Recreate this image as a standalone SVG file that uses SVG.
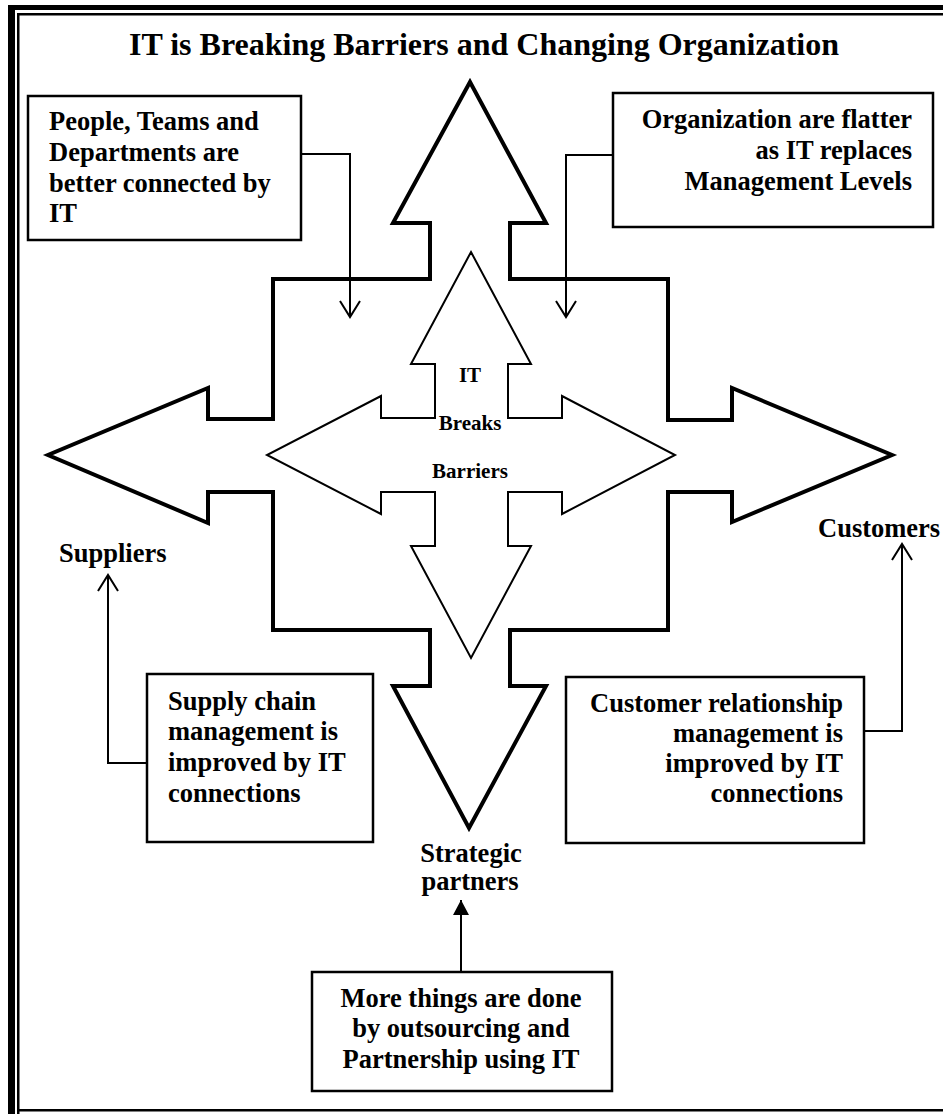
<svg xmlns="http://www.w3.org/2000/svg" width="943" height="1114" viewBox="0 0 943 1114">
  <style>
    text { font-family: "Liberation Serif", "Times New Roman", serif; font-weight: bold; fill: #000; }
    .title { font-size: 32px; }
    .label { font-size: 26.5px; }
    .inner { font-size: 21px; }
    .box { fill: #fff; stroke: #000; stroke-width: 2.5; }
    .big { fill: #fff; stroke: #000; stroke-width: 4; stroke-linejoin: miter; }
    .small { fill: none; stroke: #000; stroke-width: 2; stroke-linejoin: miter; }
    .conn { fill: none; stroke: #000; stroke-width: 2; }
  </style>
  <defs>
    <marker id="open" markerUnits="userSpaceOnUse" markerWidth="40" markerHeight="40" viewBox="-20 -20 40 40" refX="0" refY="0" orient="auto" overflow="visible">
      <path d="M-16,-10 L0,0 L-16,10" fill="none" stroke="#000" stroke-width="2"/>
    </marker>
    <marker id="solid" markerUnits="userSpaceOnUse" markerWidth="40" markerHeight="40" viewBox="-20 -20 40 40" refX="0" refY="0" orient="auto" overflow="visible">
      <path d="M-15,-8 L0,0 L-15,8 Z" fill="#000"/>
    </marker>
  </defs>

  <rect width="943" height="1114" fill="#fff"/>

  <!-- page border: thick outer rule, thin inner rule -->
  <g id="border">
    <rect x="8" y="5" width="7" height="1109" fill="#000"/>
    <rect x="8" y="5" width="935" height="5" fill="#000"/>
    <path d="M18.25,1114 V14.25 H943 M18.25,1110.25 H943" fill="none" stroke="#000" stroke-width="2.5"/>
  </g>

  <g id="title">
    <text class="title" x="484" y="55" text-anchor="middle">IT is Breaking Barriers and Changing Organization</text>
  </g>

  <!-- large four-way arrow -->
  <g id="outer-arrow">
    <polygon class="big" points="470,82 546,223 510,223 510,279 668,279 668,420 732,420 732,388 892,455 732,522 732,492 668,492 668,630 510,630 510,686 546,686 469,828 393,686 430,686 430,630 273,630 273,492 208,492 208,523 48,455 208,388 208,419 273,419 273,279 430,279 430,223 393,223"/>
  </g>

  <!-- small four-way arrow in the middle -->
  <g id="inner-arrow">
    <polygon class="small" points="471,252 531,364 508,364 508,418 562,418 562,396 675,455 562,514 562,492 508,492 508,546 531,546 471,658 411,546 435,546 435,492 381,492 381,514 267,455 381,396 381,418 435,418 435,364 411,364"/>
    <text class="inner" x="470" y="382" text-anchor="middle">IT</text>
    <text class="inner" x="470" y="430" text-anchor="middle">Breaks</text>
    <text class="inner" x="470" y="478" text-anchor="middle">Barriers</text>
  </g>

  <g id="box-people">
    <rect class="box" x="28" y="96" width="273" height="144"/>
    <text class="label" x="49" y="130">People, Teams and</text>
    <text class="label" x="49" y="161">Departments are</text>
    <text class="label" x="49" y="192">better connected by</text>
    <text class="label" x="49" y="222">IT</text>
  </g>

  <g id="box-flatter">
    <rect class="box" x="613" y="93" width="320" height="134"/>
    <text class="label" x="912" y="128" text-anchor="end">Organization are flatter</text>
    <text class="label" x="912" y="159" text-anchor="end">as IT replaces</text>
    <text class="label" x="912" y="190" text-anchor="end">Management Levels</text>
  </g>

  <g id="label-suppliers">
    <text class="label" x="59" y="562">Suppliers</text>
  </g>

  <g id="label-customers">
    <text class="label" x="818" y="537">Customers</text>
  </g>

  <g id="box-supply">
    <rect class="box" x="147" y="674" width="226" height="168"/>
    <text class="label" x="168" y="710">Supply chain</text>
    <text class="label" x="168" y="740">management is</text>
    <text class="label" x="168" y="771">improved by IT</text>
    <text class="label" x="168" y="802">connections</text>
  </g>

  <g id="box-customer">
    <rect class="box" x="566" y="677" width="298" height="166"/>
    <text class="label" x="843" y="712" text-anchor="end">Customer relationship</text>
    <text class="label" x="843" y="742" text-anchor="end">management is</text>
    <text class="label" x="843" y="772" text-anchor="end">improved by IT</text>
    <text class="label" x="843" y="802" text-anchor="end">connections</text>
  </g>

  <g id="label-partners">
    <text class="label" x="471" y="862" text-anchor="middle">Strategic</text>
    <text class="label" x="470" y="890" text-anchor="middle">partners</text>
  </g>

  <g id="box-outsourcing">
    <rect class="box" x="312" y="972" width="300" height="119"/>
    <text class="label" x="461" y="1007" text-anchor="middle">More things are done</text>
    <text class="label" x="461" y="1037" text-anchor="middle">by outsourcing and</text>
    <text class="label" x="461" y="1068" text-anchor="middle">Partnership using IT</text>
  </g>

  <g id="connectors">
    <path class="conn" d="M301,154 H350 V317" marker-end="url(#open)"/>
    <path class="conn" d="M613,155 H566 V317" marker-end="url(#open)"/>
    <path class="conn" d="M147,763 H108 V575" marker-end="url(#open)"/>
    <path class="conn" d="M864,731 H902 V544" marker-end="url(#open)"/>
    <path class="conn" d="M461,972 V900" marker-end="url(#solid)"/>
  </g>
</svg>
